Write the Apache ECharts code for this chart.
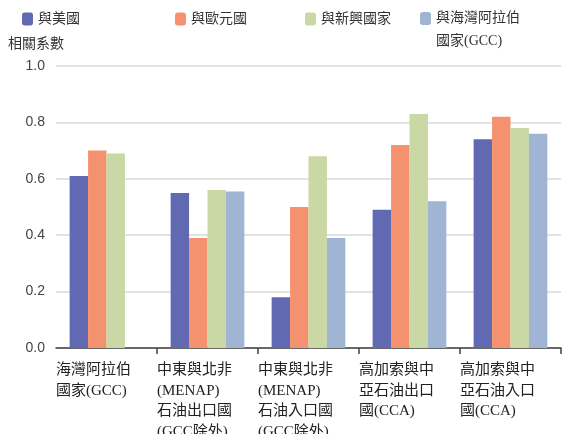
<!DOCTYPE html>
<html>
<head>
<meta charset="utf-8">
<script src="https://cdn.jsdelivr.net/npm/echarts@6/dist/echarts.min.js"></script>
<style>
  html, body { margin: 0; padding: 0; background: #fff; }
  #graph { width: 584px; height: 434px; }
</style>
</head>
<body>
<div id="graph"></div>
<script>
// 資料
var categories = [
    '海灣阿拉伯\n國家(GCC)',
    '中東與北非\n(MENAP)\n石油出口國\n(GCC除外)',
    '中東與北非\n(MENAP)\n石油入口國\n(GCC除外)',
    '高加索與中\n亞石油出口\n國(CCA)',
    '高加索與中\n亞石油入口\n國(CCA)'
];
var seriesNames = ['與美國', '與歐元國', '與新興國家', '與海灣阿拉伯國家(GCC)'];
var withUS = [0.61, 0.55, 0.18, 0.49, 0.74];
var withEuro = [0.70, 0.39, 0.50, 0.72, 0.82];
var withEmerging = [0.69, 0.56, 0.68, 0.83, 0.78];
var withGCC = [null, 0.555, 0.39, 0.52, 0.76];

var colors = ['#6169b2', '#f4916f', '#c9d8a4', '#a0b5d4'];
var cjk = "'Noto Sans CJK TC', 'Noto Sans CJK SC', sans-serif";
var mixed = "'Liberation Serif', 'Noto Sans CJK TC', serif";

var myChart = echarts.init(document.getElementById('graph'));

function legendAt(name, left, twoLine) {
    var lg = {
        data: [name],
        left: left,
        top: 12,
        padding: 0,
        itemWidth: 11,
        itemHeight: 13,
        itemGap: 0,
        selectedMode: false,
        textStyle: {
            fontFamily: mixed,
            fontSize: 14,
            color: '#333'
        }
    };
    if (twoLine) {
        // 空的第一行，讓圖示對齊文字第一行
        lg.formatter = function () { return '\n與海灣阿拉伯\n國家(GCC)'; };
        lg.textStyle.lineHeight = 23;
        lg.top = -16;
    }
    return lg;
}

var option = {
    animation: false,
    color: colors,
    title: {
        text: '相關系數',
        left: 3,
        top: 31,
        textStyle: {
            fontFamily: cjk,
            fontSize: 14,
            fontWeight: 'normal',
            color: '#333'
        }
    },
    legend: [
        legendAt(seriesNames[0], 22),
        legendAt(seriesNames[1], 175),
        legendAt(seriesNames[2], 305),
        legendAt(seriesNames[3], 420, true)
    ],
    grid: {
        left: 56,
        right: 23,
        top: 66,
        bottom: 86,
        outerBoundsMode: 'none'
    },
    xAxis: [
        {
            type: 'category',
            data: categories,
            axisLine: { show: true, lineStyle: { color: '#404040', width: 1.5 } },
            axisTick: {
                show: true,
                length: 6,
                interval: function (i) { return i > 0; },
                lineStyle: { color: '#404040', width: 1.5 }
            },
            axisLabel: { show: false }
        },
        {
            // 只用來放標籤（對齊類別左邊界）
            type: 'category',
            position: 'bottom',
            boundaryGap: false,
            data: categories.concat(['']),
            axisLine: { show: false },
            axisTick: { show: false },
            axisLabel: {
                interval: 0,
                align: 'left',
                margin: 12,
                lineHeight: 20.5,
                fontFamily: mixed,
                fontSize: 15,
                color: '#222'
            }
        }
    ],
    yAxis: {
        type: 'value',
        min: 0,
        max: 1,
        interval: 0.2,
        axisLine: { show: false },
        axisTick: { show: false },
        splitLine: { lineStyle: { color: '#d9d9d9', width: 1.5 } },
        axisLabel: {
            margin: 11,
            fontFamily: "'Liberation Sans', Arial, sans-serif",
            fontSize: 14,
            color: '#444',
            formatter: function (v) { return v.toFixed(1); }
        }
    },
    series: [
        { name: seriesNames[0], type: 'bar', data: withUS, barGap: '0%', barCategoryGap: '27%' },
        { name: seriesNames[1], type: 'bar', data: withEuro, barGap: '0%', barCategoryGap: '27%' },
        { name: seriesNames[2], type: 'bar', data: withEmerging, barGap: '0%', barCategoryGap: '27%' },
        { name: seriesNames[3], type: 'bar', data: withGCC, barGap: '0%', barCategoryGap: '27%' }
    ]
};

myChart.setOption(option);
</script>
</body>
</html>
